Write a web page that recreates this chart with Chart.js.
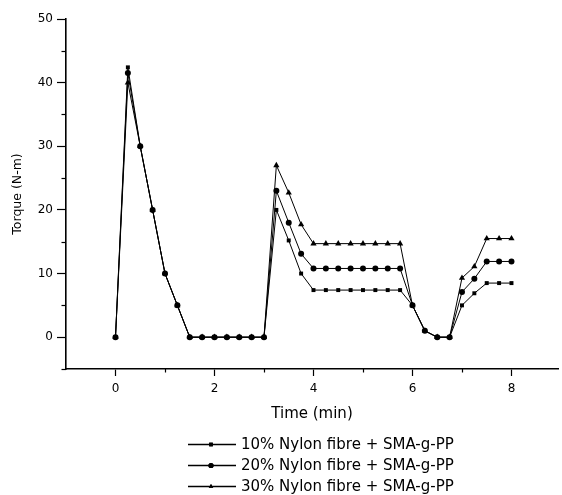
<!DOCTYPE html>
<html>
<head>
<meta charset="utf-8">
<script src="https://cdn.jsdelivr.net/npm/chart.js@4/dist/chart.umd.min.js"></script>
<style>
html,body{margin:0;padding:0;background:#fff;}
#wrap{width:562px;height:495px;}
</style>
</head>
<body>
<div id="wrap"><canvas id="c" width="562" height="495"></canvas></div>
<script>
// ---- data ----
const times = [0,0.25,0.5,0.75,1,1.25,1.5,1.75,2,2.25,2.5,2.75,3,3.25,3.5,3.75,4,4.25,4.5,4.75,5,5.25,5.5,5.75,6,6.25,6.5,6.75,7,7.25,7.5,7.75,8];
const nylon10 = [0,42.4,30,20,10,5,0,0,0,0,0,0,0,20,15.2,10,7.4,7.4,7.4,7.4,7.4,7.4,7.4,7.4,5,1,0,0,5,6.9,8.5,8.5,8.5];
const nylon20 = [0,41.5,30,20,10,5,0,0,0,0,0,0,0,23,18,13.1,10.8,10.8,10.8,10.8,10.8,10.8,10.8,10.8,5,1,0,0,7.1,9.2,11.9,11.9,11.9];
const nylon30 = [0,40,30,20,10,5,0,0,0,0,0,0,0,27,22.7,17.7,14.7,14.7,14.7,14.7,14.7,14.7,14.7,14.7,5,1,0,0,9.3,11.1,15.5,15.5,15.5];
const seriesLabels = ['10% Nylon fibre + SMA-g-PP','20% Nylon fibre + SMA-g-PP','30% Nylon fibre + SMA-g-PP'];
const xTicks = [0,2,4,6,8];
const xMinorTicks = [1,3,5,7];
const yTicks = [0,10,20,30,40,50];
const yMinorTicks = [-5,5,15,25,35,45];
const xTitle = 'Time (min)';
const yTitle = 'Torque (N-m)';

const FONT = "'DejaVu Sans', sans-serif";
const toPts = arr => arr.map((v,i)=>({x:times[i], y:v}));
const styles = ['rect','circle','triangle'];
const radii = [2.8,3,3.6];
const series = [nylon10, nylon20, nylon30];

const datasets = series.map((s,i)=>({
  label: seriesLabels[i],
  data: toPts(s),
  borderColor:'#000',
  backgroundColor:'#000',
  borderWidth:1,
  pointStyle: styles[i],
  pointRadius: radii[i],
  pointBorderWidth:0,
  pointBackgroundColor:'#000',
  tension:0
}));

const minorTicks = {
  id:'minorTicks',
  afterDraw(chart){
    const ctx = chart.ctx, xs = chart.scales.x, ys = chart.scales.y;
    const a = chart.chartArea;
    ctx.save();
    ctx.strokeStyle='#000'; ctx.lineWidth=1.2;
    xMinorTicks.forEach(v=>{
      const px = Math.round(xs.getPixelForValue(v))+0.5;
      ctx.beginPath(); ctx.moveTo(px,a.bottom); ctx.lineTo(px,a.bottom+3.5); ctx.stroke();
    });
    yMinorTicks.forEach(v=>{
      const py = Math.round(ys.getPixelForValue(v))+0.5;
      ctx.beginPath(); ctx.moveTo(a.left-4.5,py); ctx.lineTo(a.left,py); ctx.stroke();
    });
    ctx.restore();
  }
};

const customLegend = {
  id:'customLegend',
  afterDraw(chart){
    const ctx = chart.ctx;
    const rows = [444,465,486];
    ctx.save();
    chart.data.datasets.forEach((ds,i)=>{
      const y = rows[i];
      ctx.strokeStyle='#000'; ctx.lineWidth=1.6;
      ctx.beginPath(); ctx.moveTo(188,y+0.5); ctx.lineTo(236,y+0.5); ctx.stroke();
      ctx.fillStyle='#000';
      Chart.helpers.drawPoint(ctx,{pointStyle:ds.pointStyle,radius:2.6,borderWidth:0},211,y+0.5);
      ctx.fill();
      ctx.font = "15px " + FONT;
      ctx.textBaseline='middle';
      ctx.textAlign='left';
      ctx.fillText(ds.label, 241, y+1);
    });
    ctx.restore();
  }
};

new Chart(document.getElementById('c'),{
  type:'line',
  data:{datasets},
  options:{
    responsive:false,
    animation:false,
    events:[],
    layout:{padding:{top:19,right:1,left:0,bottom:66}},
    plugins:{legend:{display:false},tooltip:{enabled:false}},
    scales:{
      x:{
        type:'linear', min:-1, max:8.94,
        afterBuildTicks(s){ s.ticks = xTicks.map(v=>({value:v})); },
        afterFit(s){ s.height = 60; },
        grid:{drawOnChartArea:false, drawTicks:true, tickLength:7, tickColor:'#000', tickWidth:1.2},
        border:{display:true, color:'#000', width:1.6},
        ticks:{color:'#000', font:{family:FONT,size:12}, padding:6, maxRotation:0, callback:v=>String(v)},
        title:{display:true, text:xTitle, color:'#000', font:{family:FONT,size:15}, padding:{top:4,bottom:6}}
      },
      y:{
        type:'linear', min:-5, max:50,
        afterBuildTicks(s){ s.ticks = yTicks.map(v=>({value:v})); },
        afterFit(s){ s.width = 66; },
        grid:{drawOnChartArea:false, drawTicks:true, tickLength:9, tickColor:'#000', tickWidth:1.2},
        border:{display:true, color:'#000', width:1.6},
        ticks:{color:'#000', font:{family:FONT,size:12}, padding:4, callback:v=>String(v)},
        title:{display:true, text:yTitle, color:'#000', font:{family:FONT,size:12.5}, padding:{top:10,bottom:0}}
      }
    }
  },
  plugins:[minorTicks, customLegend]
});
</script>
</body>
</html>
